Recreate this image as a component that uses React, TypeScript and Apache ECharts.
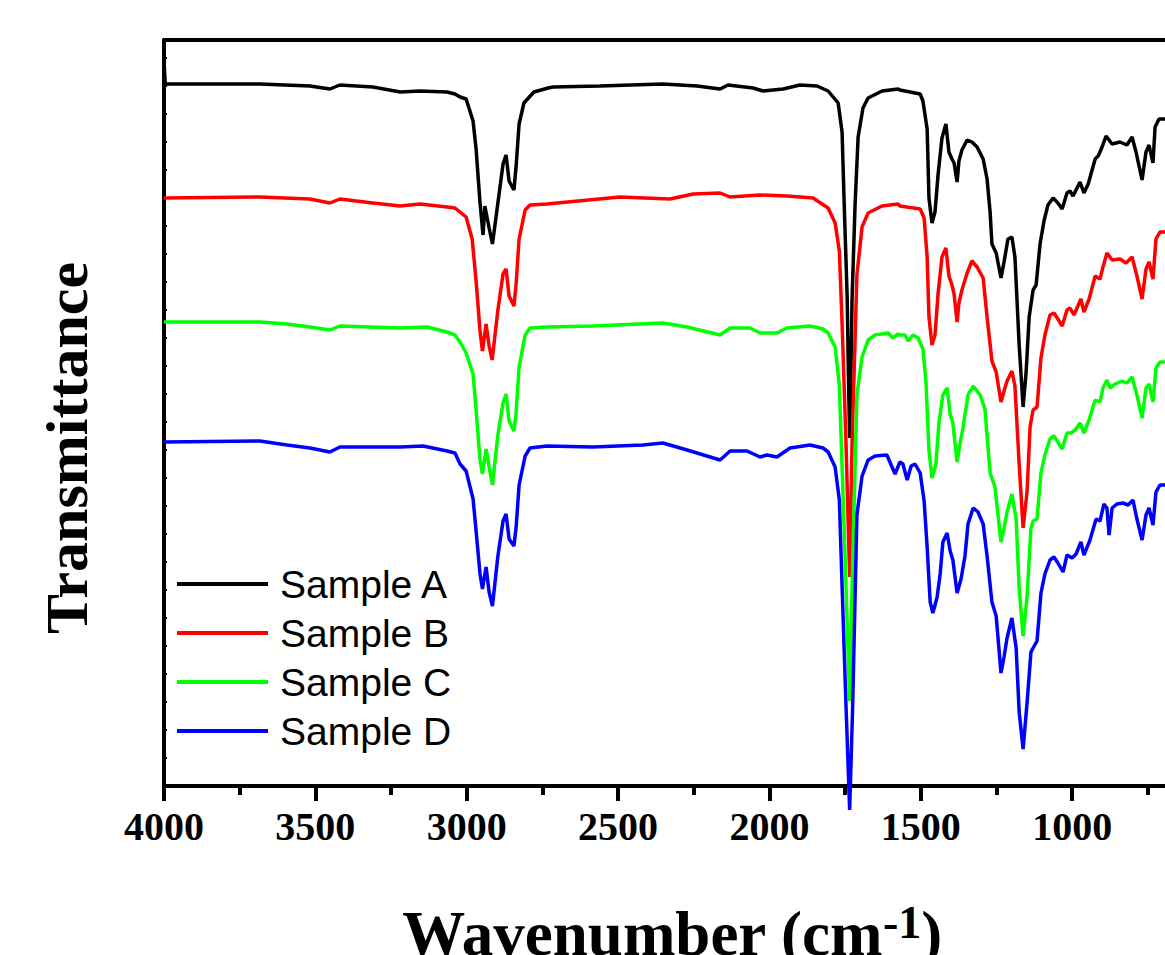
import React, { useEffect, useRef } from 'react';
import * as echarts from 'echarts';

// FTIR spectra, [wavenumber (cm-1), transmittance (arbitrary units, offset stacked)]
const SAMPLE_NAMES = ['Sample A', 'Sample B', 'Sample C', 'Sample D'];
const SAMPLE_COLORS = ['#000000', '#ff0000', '#00ff00', '#0000ff'];

const X_MIN = 500;
const X_MAX = 4000;
const X_STEP = 500;
const X_TICK_LABELS = ['4000', '3500', '3000', '2500', '2000', '1500', '1000'];
const Y_MIN = 0;
const Y_MAX = 746;

const sampleA: number[][] = [
  [4000, 726], [3996, 702], [3683, 702], [3518, 700], [3452, 697], [3419, 701], [3310, 699], [3220, 694],
  [3154, 695], [3065, 694], [3039, 692], [3022, 689], [3002, 687], [2979, 665], [2969, 637], [2956, 583],
  [2946, 551], [2940, 580], [2926, 558], [2915, 542], [2897, 583], [2880, 622], [2870, 631], [2860, 605],
  [2844, 596], [2837, 619], [2827, 662], [2811, 683], [2778, 694], [2731, 698], [2715, 699], [2560, 700],
  [2352, 702], [2239, 700], [2163, 697], [2137, 701], [2054, 698], [2021, 695], [1955, 697], [1899, 701],
  [1843, 700], [1806, 695], [1773, 683], [1760, 654], [1753, 582], [1743, 487], [1739, 410], [1735, 348],
  [1731, 410], [1727, 487], [1717, 582], [1707, 649], [1691, 678], [1674, 688], [1628, 695], [1575, 697],
  [1569, 696], [1502, 692], [1493, 685], [1479, 657], [1473, 588], [1463, 563], [1453, 574], [1443, 611],
  [1430, 648], [1417, 662], [1407, 634], [1397, 627], [1390, 623], [1380, 604], [1374, 625], [1364, 636],
  [1347, 646], [1331, 644], [1314, 639], [1294, 627], [1281, 607], [1271, 574], [1265, 542], [1251, 533],
  [1235, 508], [1225, 524], [1212, 547], [1199, 549], [1189, 529], [1175, 441], [1162, 379], [1152, 414],
  [1142, 469], [1129, 496], [1119, 501], [1106, 542], [1093, 565], [1080, 581], [1063, 588], [1047, 583],
  [1033, 577], [1017, 593], [1007, 595], [997, 590], [974, 604], [961, 593], [947, 602], [924, 627],
  [914, 630], [901, 639], [888, 650], [868, 642], [842, 644], [819, 641], [802, 649], [789, 634],
  [769, 606], [756, 634], [746, 641], [733, 623], [726, 659], [713, 667], [693, 667], [650, 667],
];

const sampleB: number[][] = [
  [4000, 588], [3683, 589], [3518, 587], [3452, 583], [3419, 587], [3310, 583], [3220, 580], [3154, 582],
  [3065, 579], [3039, 578], [3002, 569], [2982, 547], [2969, 505], [2956, 455], [2948, 435], [2936, 462],
  [2926, 440], [2916, 426], [2897, 476], [2880, 512], [2870, 517], [2860, 490], [2844, 480], [2837, 501],
  [2827, 547], [2807, 576], [2791, 581], [2735, 582], [2494, 589], [2328, 587], [2252, 592], [2163, 593],
  [2130, 589], [2031, 591], [1942, 590], [1856, 588], [1806, 578], [1783, 563], [1769, 535], [1760, 463],
  [1747, 343], [1735, 209], [1727, 343], [1711, 511], [1694, 559], [1674, 573], [1628, 580], [1575, 582],
  [1569, 580], [1502, 577], [1489, 568], [1479, 529], [1473, 469], [1463, 441], [1453, 451], [1443, 492],
  [1430, 529], [1417, 538], [1407, 510], [1397, 501], [1390, 492], [1380, 464], [1374, 483], [1364, 496],
  [1347, 513], [1331, 525], [1314, 519], [1294, 508], [1281, 469], [1265, 425], [1251, 414], [1235, 384],
  [1225, 395], [1215, 405], [1199, 415], [1189, 400], [1175, 322], [1162, 258], [1149, 294], [1139, 359],
  [1129, 376], [1116, 379], [1103, 428], [1090, 451], [1073, 471], [1060, 473], [1047, 467], [1033, 460],
  [1017, 476], [1007, 478], [994, 471], [971, 487], [961, 474], [944, 487], [924, 510], [908, 507],
  [898, 519], [885, 533], [868, 526], [842, 527], [822, 523], [802, 529], [786, 510], [769, 487],
  [756, 517], [746, 524], [733, 507], [723, 547], [710, 554], [693, 554], [650, 554],
];

const sampleC: number[][] = [
  [4000, 464], [3683, 464], [3594, 462], [3518, 459], [3452, 456], [3419, 460], [3220, 458], [3131, 459],
  [3065, 454], [3039, 451], [3022, 444], [3002, 433], [2979, 412], [2969, 376], [2956, 326], [2948, 312],
  [2936, 337], [2926, 319], [2915, 301], [2897, 351], [2880, 383], [2870, 392], [2860, 365], [2844, 355],
  [2837, 372], [2827, 419], [2807, 451], [2791, 458], [2735, 459], [2583, 460], [2352, 463], [2272, 459],
  [2163, 451], [2130, 458], [2064, 458], [2031, 453], [1975, 453], [1942, 458], [1866, 460], [1823, 457],
  [1806, 453], [1783, 439], [1769, 401], [1760, 319], [1747, 200], [1735, 85], [1727, 200], [1711, 391],
  [1694, 429], [1674, 446], [1651, 451], [1608, 453], [1592, 448], [1575, 452], [1569, 451], [1552, 451],
  [1542, 445], [1526, 451], [1509, 448], [1493, 437], [1483, 405], [1473, 336], [1463, 308], [1450, 322],
  [1440, 363], [1427, 391], [1413, 398], [1403, 372], [1394, 363], [1380, 324], [1370, 343], [1360, 359],
  [1344, 391], [1327, 400], [1304, 391], [1288, 377], [1271, 313], [1255, 299], [1235, 244], [1225, 258],
  [1215, 274], [1199, 292], [1185, 267], [1175, 198], [1162, 150], [1149, 189], [1136, 258], [1129, 265],
  [1116, 267], [1103, 313], [1090, 331], [1073, 347], [1060, 350], [1047, 344], [1033, 337], [1017, 353],
  [1004, 353], [990, 356], [974, 363], [961, 353], [944, 366], [924, 386], [908, 384], [898, 398],
  [885, 406], [875, 398], [858, 402], [835, 405], [819, 403], [802, 409], [786, 391], [769, 368],
  [756, 398], [746, 402], [733, 384], [723, 418], [710, 424], [693, 424], [650, 424],
];

const sampleD: number[][] = [
  [4000, 344], [3683, 345], [3594, 341], [3518, 338], [3452, 334], [3419, 339], [3220, 339], [3144, 340],
  [3065, 335], [3039, 333], [3022, 322], [3002, 315], [2979, 287], [2969, 255], [2956, 212], [2948, 197],
  [2936, 219], [2926, 194], [2915, 180], [2897, 230], [2880, 265], [2870, 272], [2860, 247], [2844, 240],
  [2837, 258], [2827, 301], [2807, 330], [2791, 338], [2735, 340], [2583, 339], [2418, 341], [2352, 343],
  [2272, 336], [2163, 326], [2130, 335], [2074, 335], [2031, 329], [2008, 331], [1975, 329], [1932, 338],
  [1866, 341], [1823, 338], [1806, 334], [1783, 319], [1769, 286], [1760, 200], [1747, 80], [1735, -24],
  [1725, 80], [1711, 271], [1694, 310], [1674, 326], [1651, 330], [1612, 331], [1595, 319], [1585, 312],
  [1569, 324], [1559, 322], [1545, 306], [1532, 320], [1519, 322], [1502, 313], [1489, 285], [1479, 239],
  [1469, 184], [1460, 173], [1446, 189], [1436, 212], [1427, 244], [1413, 253], [1403, 235], [1394, 226],
  [1380, 193], [1367, 207], [1354, 230], [1344, 262], [1327, 278], [1311, 274], [1294, 262], [1281, 230],
  [1265, 184], [1251, 170], [1235, 113], [1225, 129], [1215, 148], [1199, 168], [1185, 138], [1175, 74],
  [1162, 37], [1149, 83], [1136, 134], [1129, 138], [1116, 145], [1103, 193], [1090, 212], [1073, 226],
  [1060, 229], [1047, 223], [1030, 214], [1017, 231], [1000, 228], [987, 232], [971, 244], [961, 231],
  [941, 246], [921, 267], [908, 265], [895, 282], [885, 278], [878, 251], [868, 278], [852, 282],
  [832, 283], [815, 281], [799, 286], [786, 267], [769, 246], [756, 271], [746, 278], [733, 261],
  [723, 294], [710, 301], [693, 301], [650, 301],
];

const SAMPLE_DATA = [sampleA, sampleB, sampleC, sampleD];

const SERIF = "'Times New Roman', 'Liberation Serif', serif";
const SANS = "Arial, 'Liberation Sans', sans-serif";

export default function App() {
  const ref = useRef<HTMLDivElement>(null);

  useEffect(() => {
    if (!ref.current) return;
    const chart = echarts.init(ref.current, null, { renderer: 'svg' });
    const axisColor = '#000';
    chart.setOption({
      animation: false,
      backgroundColor: '#ffffff',
      grid: { left: 164, top: 40, width: 1059.5, height: 746, containLabel: false },
      legend: {
        orient: 'vertical',
        left: 177,
        top: 562,
        padding: 0,
        itemGap: 5,
        itemWidth: 91,
        itemHeight: 4,
        icon: 'rect',
        data: SAMPLE_NAMES,
        textStyle: {
          color: '#000',
          fontSize: 39,
          fontFamily: SANS,
          lineHeight: 44,
          padding: [0, 0, 0, 7],
        },
      },
      xAxis: [
        {
          type: 'value',
          position: 'bottom',
          min: X_MIN,
          max: X_MAX,
          interval: X_STEP,
          inverse: true,
          axisLine: { show: true, onZero: false, lineStyle: { color: axisColor, width: 4 } },
          axisTick: { show: true, inside: false, length: 15, lineStyle: { color: axisColor, width: 4 } },
          minorTick: { show: true, splitNumber: 2, length: 9, lineStyle: { color: axisColor, width: 4 } },
          splitLine: { show: false },
          minorSplitLine: { show: false },
          axisLabel: {
            show: true,
            color: '#000',
            fontSize: 40,
            fontWeight: 'bold',
            fontFamily: SERIF,
            margin: 20,
            formatter: (v: number) => (X_TICK_LABELS.includes(String(v)) ? String(v) : ''),
          },
        },
        {
          type: 'value',
          position: 'top',
          min: X_MIN,
          max: X_MAX,
          interval: X_STEP,
          inverse: true,
          axisLine: { show: true, onZero: false, lineStyle: { color: axisColor, width: 4 } },
          axisTick: { show: false },
          axisLabel: { show: false },
          splitLine: { show: false },
        },
      ],
      yAxis: {
        type: 'value',
        min: Y_MIN,
        max: Y_MAX,
        interval: 28,
        axisLine: { show: true, onZero: false, lineStyle: { color: axisColor, width: 4 } },
        axisTick: { show: true, inside: true, length: 3, lineStyle: { color: axisColor, width: 2 } },
        axisLabel: { show: false },
        splitLine: { show: false },
      },
      series: SAMPLE_NAMES.map((name, i) => ({
        name,
        type: 'line',
        data: SAMPLE_DATA[i],
        xAxisIndex: 0,
        showSymbol: false,
        symbol: 'none',
        clip: false,
        lineStyle: { color: SAMPLE_COLORS[i], width: 3.5 },
        itemStyle: { color: SAMPLE_COLORS[i] },
        emphasis: { disabled: true },
      })),
      graphic: [
        {
          type: 'text',
          x: 67,
          y: 448,
          rotation: Math.PI / 2,
          style: {
            text: 'Transmittance',
            fill: '#000',
            fontSize: 60,
            fontWeight: 'bold',
            fontFamily: SERIF,
            align: 'center',
            verticalAlign: 'middle',
          },
        },
        {
          type: 'text',
          x: 672,
          y: 899,
          style: {
            text: '{a|Wavenumber (cm}{b|-1}{a|)}',
            fill: '#000',
            align: 'center',
            verticalAlign: 'top',
            rich: {
              a: { fontSize: 63, fontWeight: 'bold', fontFamily: SERIF, lineHeight: 66, verticalAlign: 'bottom', fill: '#000' },
              b: { fontSize: 46, fontWeight: 'bold', fontFamily: SERIF, lineHeight: 20, verticalAlign: 'top', fill: '#000' },
            },
          },
        },
      ],
    });
    return () => chart.dispose();
  }, []);

  return (
    <div
      style={{
        position: 'fixed',
        left: 0,
        top: 0,
        width: 1165,
        height: 955,
        overflow: 'hidden',
        background: '#ffffff',
      }}
    >
      <div ref={ref} style={{ width: 1300, height: 955 }} />
    </div>
  );
}
